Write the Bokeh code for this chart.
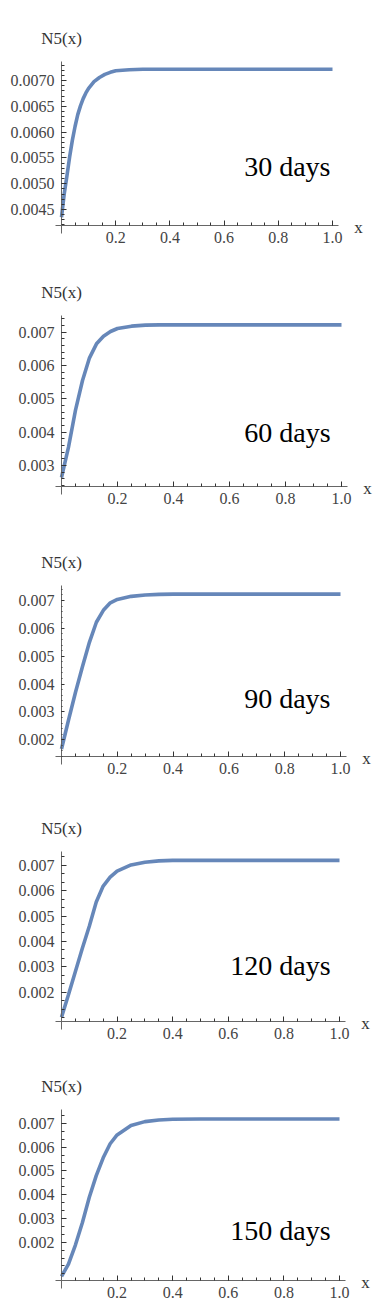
import numpy as np
from bokeh.plotting import figure
from bokeh.layouts import column
from bokeh.models import Range1d, FixedTicker, Label, PrintfTickFormatter, ColumnDataSource
from bokeh.embed import file_html
from bokeh.resources import INLINE

# ---------------- data ----------------
x_30 = [0.0, 0.01, 0.02, 0.03, 0.04, 0.05, 0.06, 0.07, 0.08, 0.09, 0.10, 0.12, 0.14,
        0.16, 0.18, 0.20, 0.25, 0.30, 0.40, 0.50, 0.60, 0.70, 0.80, 0.90, 1.00]
n5_30 = [0.00435, 0.00480, 0.00515, 0.00552, 0.00584, 0.00611, 0.00634, 0.00651, 0.00665,
         0.00676, 0.00685, 0.00698, 0.00706, 0.00712, 0.00716, 0.00719, 0.00721, 0.00722,
         0.00722, 0.00722, 0.00722, 0.00722, 0.00722, 0.00722, 0.00722]

x_grid = [0.0, 0.025, 0.05, 0.075, 0.10, 0.125, 0.15, 0.175, 0.20, 0.25, 0.30, 0.35,
          0.40, 0.50, 0.60, 0.70, 0.80, 0.90, 1.00]
n5_60 = [0.00264, 0.00355, 0.00466, 0.00555, 0.00623, 0.00665, 0.00688, 0.00702, 0.00711,
         0.00718, 0.00721, 0.00722, 0.00722, 0.00722, 0.00722, 0.00722, 0.00722, 0.00722, 0.00722]
n5_90 = [0.00167, 0.00270, 0.00370, 0.00462, 0.00550, 0.00622, 0.00665, 0.00692, 0.00704,
         0.00715, 0.00720, 0.00722, 0.00723, 0.00723, 0.00723, 0.00723, 0.00723, 0.00723, 0.00723]
n5_120 = [0.00102, 0.00190, 0.00282, 0.00373, 0.00460, 0.00555, 0.00618, 0.00653, 0.00677,
          0.00701, 0.00712, 0.00717, 0.00719, 0.00719, 0.00719, 0.00719, 0.00719, 0.00719, 0.00719]
n5_150 = [0.00056, 0.00108, 0.00188, 0.00282, 0.00389, 0.00480, 0.00555, 0.00614, 0.00651,
          0.00691, 0.00707, 0.00714, 0.00717, 0.00718, 0.00718, 0.00718, 0.00718, 0.00718, 0.00718]

day_labels = ["30 days", "60 days", "90 days", "120 days", "150 days"]

y_ticks_30 = [0.0045, 0.0050, 0.0055, 0.0060, 0.0065, 0.0070]
y_ticks_60 = [0.003, 0.004, 0.005, 0.006, 0.007]
y_ticks_90 = [0.002, 0.003, 0.004, 0.005, 0.006, 0.007]
y_ticks_120 = [0.002, 0.003, 0.004, 0.005, 0.006, 0.007]
y_ticks_150 = [0.002, 0.003, 0.004, 0.005, 0.006, 0.007]
x_ticks = [0.2, 0.4, 0.6, 0.8, 1.0]

# ---------------- layout / style ----------------
SERIF = "Liberation Serif"
LINE = "#5E81B5"
W = 382          # figure width (px)
X0_PX = 61       # pixel position of x = 0 inside each figure

# per panel: value at x-axis (ylo), value at top of y-axis (yhi),
# pixel rows of those inside the figure, pixel column of x = 1, figure height
panels = [
    dict(x=x_30, y=n5_30, yt=y_ticks_30, fmt="%.4f", ylo=0.00419, yhi=0.00737, minor=0.0001,
         h=265, top_px=61, axis_px=225, x1_px=332, lab=(0.9926, 0.00534), mj=5, mn=3),
    dict(x=x_grid, y=n5_60, yt=y_ticks_60, fmt="%.3f", ylo=0.00237, yhi=0.0075, minor=0.0002,
         h=265, top_px=50, axis_px=221, x1_px=341, lab=(0.961, 0.00398), mj=5, mn=3),
    dict(x=x_grid, y=n5_90, yt=y_ticks_90, fmt="%.3f", ylo=0.0014, yhi=0.00754, minor=0.0002,
         h=265, top_px=55, axis_px=226, x1_px=340, lab=(0.964, 0.00347), mj=3, mn=1),
    dict(x=x_grid, y=n5_120, yt=y_ticks_120, fmt="%.3f", ylo=0.00085, yhi=0.00754, minor=0.001 / 3,
         h=260, top_px=56, axis_px=226, x1_px=339, lab=(0.968, 0.00304), mj=5, mn=3),
    dict(x=x_grid, y=n5_150, yt=y_ticks_150, fmt="%.3f", ylo=0.00039, yhi=0.00758, minor=0.001 / 3,
         h=261, top_px=54, axis_px=225, x1_px=339, lab=(0.968, 0.00249), mj=5, mn=3),
]

figs = []
for spec, day in zip(panels, day_labels):
    h = spec["h"]
    sx = spec["x1_px"] - X0_PX                       # px per x unit
    sy = (spec["axis_px"] - spec["top_px"]) / (spec["yhi"] - spec["ylo"])  # px per y unit
    x_start, x_end = -X0_PX / sx, (W - X0_PX) / sx
    y_start = spec["ylo"] - (h - spec["axis_px"]) / sy
    y_end = spec["yhi"] + spec["top_px"] / sy
    ylo, yhi = spec["ylo"], spec["yhi"]

    p = figure(width=W, height=h, output_backend="svg", toolbar_location=None,
               x_range=Range1d(x_start, x_end), y_range=Range1d(y_start, y_end),
               min_border=0)
    p.outline_line_color = None
    p.grid.visible = False
    p.background_fill_color = "white"
    p.border_fill_color = "white"

    src = ColumnDataSource(dict(x=spec["x"], y=spec["y"]))
    p.line("x", "y", source=src, line_color=LINE, line_width=3.6, line_alpha=0.95)

    # axes crossing Mathematica-style
    p.yaxis.fixed_location = 0
    p.xaxis.fixed_location = ylo
    p.yaxis.bounds = (ylo - 8 / sy, yhi)
    p.xaxis.bounds = (-6 / sx, 1.022)

    yminor = list(np.arange(np.ceil(ylo / spec["minor"] - 1e-6) * spec["minor"], yhi, spec["minor"]))
    p.yaxis.ticker = FixedTicker(ticks=spec["yt"], minor_ticks=yminor)
    p.yaxis.formatter = PrintfTickFormatter(format=spec["fmt"])
    p.xaxis.ticker = FixedTicker(ticks=x_ticks, minor_ticks=list(np.arange(0.05, 1.01, 0.05)))
    p.xaxis.formatter = PrintfTickFormatter(format="%.1f")

    for ax in (p.xaxis[0], p.yaxis[0]):
        ax.axis_line_color = "#666666"
        ax.axis_line_width = 1
        ax.major_tick_line_color = "#333333"
        ax.minor_tick_line_color = "#333333"
        ax.major_tick_out = 0
        ax.minor_tick_out = 0
        ax.major_label_text_font = SERIF
        ax.major_label_text_font_size = "16px"
        ax.major_label_text_color = "#444444"
    p.yaxis.major_tick_in = spec["mj"]
    p.yaxis.minor_tick_in = spec["mn"]
    p.yaxis.major_label_standoff = 7
    p.xaxis.major_tick_in = 5
    p.xaxis.minor_tick_in = 3
    p.xaxis.major_label_standoff = 6

    p.add_layout(Label(x=0, y=yhi, y_offset=23, text="N5(x)", text_font=SERIF,
                       text_font_size="17px", text_color="#333333",
                       text_align="center", text_baseline="middle"))
    p.add_layout(Label(x=1.0, y=ylo, x_offset=26, y_offset=-2, text="x",
                       text_font=SERIF, text_font_size="17px", text_color="#333333",
                       text_align="center", text_baseline="middle"))
    p.add_layout(Label(x=spec["lab"][0], y=spec["lab"][1], text=day, text_font=SERIF,
                       text_font_size="28px", text_color="black",
                       text_align="right", text_baseline="alphabetic"))
    figs.append(p)

layout = column(*figs, spacing=0)
open("out.html", "w").write(file_html(layout, INLINE))
